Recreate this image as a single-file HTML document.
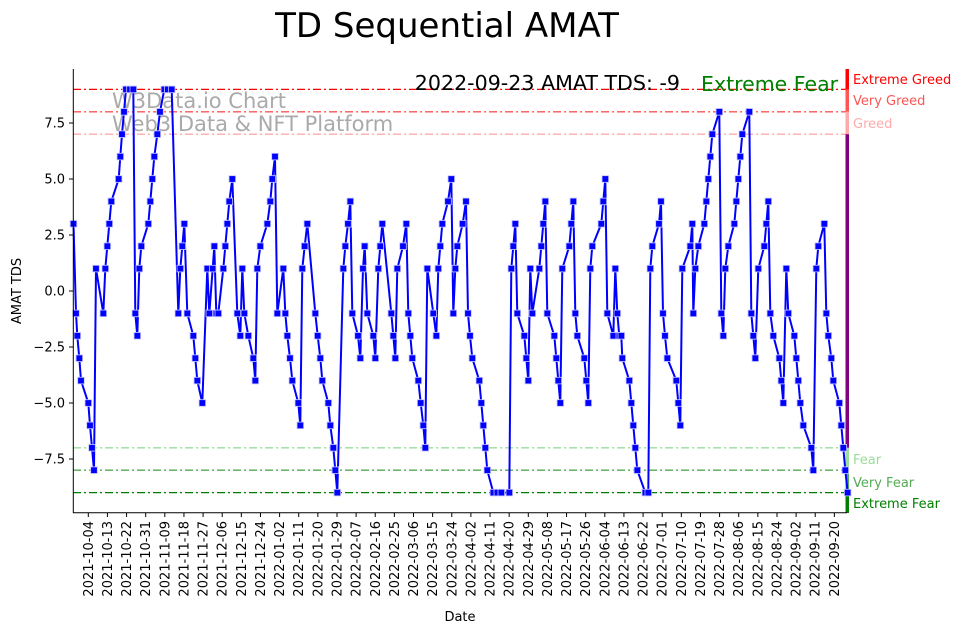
<!DOCTYPE html>
<html><head><meta charset="utf-8"><style>
html,body{margin:0;padding:0;background:#fff;}
svg{display:block;font-family:"DejaVu Sans","Liberation Sans",sans-serif;}
</style></head><body>
<svg id="s" width="967" height="633" viewBox="0 0 967 633" xmlns="http://www.w3.org/2000/svg">
<rect width="967" height="633" fill="#fff"/>
<text x="447" y="37" font-size="34" text-anchor="middle" fill="#000">TD Sequential AMAT</text>
<g stroke-width="1.3" stroke-dasharray="8,3,2,3">
<line x1="73" x2="847" y1="89.4" y2="89.4" stroke="#ff0000"/>
<line x1="73" x2="847" y1="111.8" y2="111.8" stroke="#ff5555"/>
<line x1="73" x2="847" y1="134.2" y2="134.2" stroke="#ffaaaa"/>
<line x1="73" x2="847" y1="447.8" y2="447.8" stroke="#99dd99"/>
<line x1="73" x2="847" y1="470.2" y2="470.2" stroke="#55aa55"/>
<line x1="73" x2="847" y1="492.6" y2="492.6" stroke="#008000"/>
</g>
<text x="112" y="108" font-size="21" fill="#aaaaaa">W3Data.io Chart</text>
<text x="112" y="131" font-size="21" fill="#aaaaaa">Web3 Data &amp; NFT Platform</text>
<text x="680" y="90" font-size="20.6" text-anchor="end" fill="#000">2022-09-23 AMAT TDS: -9</text>
<text x="701" y="91" font-size="20.5" fill="#008000">Extreme Fear</text>
<rect x="845.5" y="69" width="3.5" height="20.4" fill="#ff0000"/>
<rect x="845.5" y="89.4" width="3.5" height="22.4" fill="#ff5555"/>
<rect x="845.5" y="111.8" width="3.5" height="22.4" fill="#ffaaaa"/>
<rect x="845.5" y="134.2" width="3.5" height="313.6" fill="#800080"/>
<rect x="845.5" y="447.8" width="3.5" height="22.4" fill="#99dd99"/>
<rect x="845.5" y="470.2" width="3.5" height="22.4" fill="#55aa55"/>
<rect x="845.5" y="492.6" width="3.5" height="20.4" fill="#008000"/>
<g font-size="13">
<text x="853" y="84" fill="#ff0000">Extreme Greed</text>
<text x="853" y="105" fill="#ff5555">Very Greed</text>
<text x="853" y="128" fill="#ffaaaa">Greed</text>
<text x="853" y="464" fill="#99dd99">Fear</text>
<text x="853" y="487" fill="#55aa55">Very Fear</text>
<text x="853" y="508" fill="#008000">Extreme Fear</text>
</g>
<g id="series"></g>
<line x1="73.3" y1="69" x2="73.3" y2="513" stroke="#000" stroke-width="1"/>
<line x1="73" y1="512.7" x2="847" y2="512.7" stroke="#000" stroke-width="1"/>
<g id="yt" font-size="13" fill="#000"></g>
<g id="xt" font-size="13" fill="#000"></g>
<text x="21" y="291" font-size="13" text-anchor="middle" transform="rotate(-90 21 291)">AMAT TDS</text>
<text x="460" y="621" font-size="13" text-anchor="middle">Date</text>
</svg>
<script>
var NS="http://www.w3.org/2000/svg";
function el(t,a,p,txt){var e=document.createElementNS(NS,t);for(var k in a)e.setAttribute(k,a[k]);if(txt!=null)e.textContent=txt;p.appendChild(e);return e;}
var c1=[[12,3],[18,-1],[22,-2],[28,-3],[33,-4],[55,-5],[60,-6],[66,-7],[72,-8],[78,1],[100,-1],[106,1],[112,2],[118,3],[124,4],[146,5],[151,6],[156,7],[162,8],[168,9],[180,9],[190,9],[196,-1],[202,-2],[208,1],[214,2],[235,3],[241,4],[247,5],[253,6],[262,7],[270,8],[283,9],[293,9],[305,9],[325,-1],[331,1],[337,2],[343,3],[352,-1],[370,-2],[376,-3],[382,-4],[397,-5],[412,1],[418,-1],[428,1],[433,2],[439,-1],[445,-1],[460,1],[466,2],[472,3],[478,4],[487,5],[502,-1],[511,-2],[517,1],[523,-1],[535,-2],[550,-3],[556,-4],[562,1],[571,2],[592,3]];
var c2=[[16,4],[22,5],[30,6],[37,-1],[55,1],[61,-1],[67,-2],[75,-3],[82,-4],[100,-5],[106,-6],[112,1],[119,2],[127,3],[151,-1],[158,-2],[166,-3],[172,-4],[190,-5],[196,-6],[205,-7],[211,-8],[217,-9],[235,1],[241,2],[249,3],[256,4],[262,-1],[279,-2],[286,-3],[294,1],[299,2],[307,-1],[325,-2],[331,-3],[340,1],[346,2],[352,3],[379,-1],[385,-2],[391,-3],[397,1],[414,2],[424,3],[430,-1],[436,-2],[442,-3],[460,-4],[467,-5],[475,-6],[481,-7],[487,1],[505,-1],[514,-2],[520,1],[526,2],[532,3],[549,4],[559,5],[565,-1],[571,1],[577,2]];
var c3=[[8,3],[18,4],[24,-1],[30,-2],[37,-3],[58,-4],[64,-5],[70,-6],[76,-7],[82,-8],[100,-9],[112,-9],[124,-9],[148,-9],[154,1],[160,2],[166,3],[172,-1],[193,-2],[199,-3],[205,-4],[211,1],[217,-1],[238,1],[244,2],[250,3],[256,4],[262,-1],[283,-2],[289,-3],[295,-4],[301,-5],[307,1],[328,2],[334,3],[340,4],[346,-1],[352,-2],[373,-3],[379,-4],[385,-5],[391,1],[397,2],[424,3],[430,4],[436,5],[442,-1],[460,-2],[466,1],[472,-1],[478,-2],[484,-2],[487,-3],[508,-4],[514,-5],[520,-6],[526,-7],[532,-8],[556,-9],[565,-9],[571,1],[577,2]];
var c4=[[12,3],[18,4],[24,-1],[30,-2],[37,-3],[64,-4],[70,-5],[76,-6],[82,1],[106,2],[112,3],[115,-1],[121,1],[130,2],[148,3],[154,4],[160,5],[166,6],[172,7],[193,8],[199,-1],[205,-2],[211,1],[220,2],[238,3],[244,4],[250,5],[256,6],[262,7],[283,8],[289,-1],[295,-2],[301,-3],[310,1],[328,2],[334,3],[340,4],[346,-1],[355,-2],[373,-3],[379,-4],[385,-5],[394,1],[400,-1],[418,-2],[424,-3],[430,-4],[436,-5],[445,-6],[469,-7],[475,-8],[484,1],[490,2],[508,3],[514,-1],[520,-2],[529,-3],[535,-4],[553,-5],[559,-6],[565,-7],[571,-8],[578,-9]];
var pts=[];
[[c1,70],[c2,265],[c3,460],[c4,655]].forEach(function(p){p[0].forEach(function(q){pts.push([p[1]+q[0]/3,291-q[1]*22.4]);});});
pts[0][0]=73.5;
var g=document.getElementById("series");
el("polyline",{points:pts.map(function(p){return p[0].toFixed(1)+","+p[1].toFixed(1);}).join(" "),fill:"none",stroke:"#0000ff","stroke-width":2},g);
pts.forEach(function(p){el("rect",{x:p[0]-3.3,y:p[1]-3.3,width:6.6,height:6.6,fill:"#0000ff",stroke:"#c8c8ff","stroke-width":0.8},g);});
var yt=document.getElementById("yt");
[7.5,5,2.5,0,-2.5,-5,-7.5].forEach(function(v){var y=291-v*22.4;el("line",{x1:69,x2:73,y1:y,y2:y,stroke:"#000"},yt);el("text",{x:65,y:y+4.5,"text-anchor":"end"},yt,(v<0?"\u2212":"")+Math.abs(v).toFixed(1));});
var xt=document.getElementById("xt");
var d0=Date.UTC(2021,9,4);
for(var i=0;i<40;i++){var x=88.3+i*19.13;var d=new Date(d0+i*9*86400000);var s=d.toISOString().slice(0,10);
el("line",{x1:x,x2:x,y1:513,y2:517,stroke:"#000"},xt);
el("text",{x:0,y:0,"text-anchor":"end",transform:"translate("+(x+4.5)+",521) rotate(-90)"},xt,s);}
</script>
</body></html>
